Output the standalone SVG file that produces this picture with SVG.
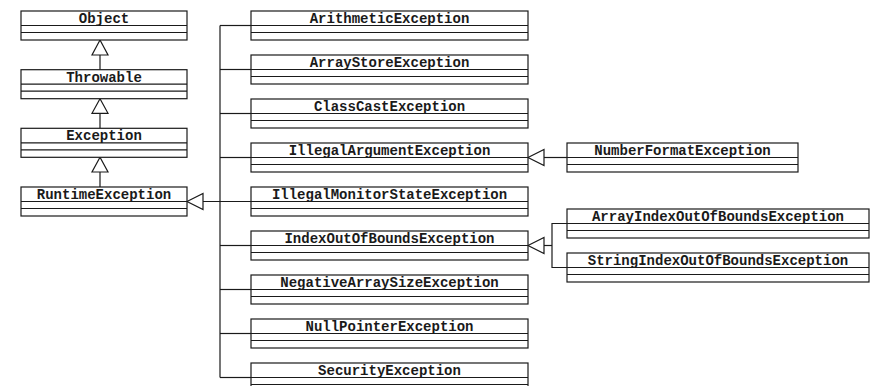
<svg xmlns="http://www.w3.org/2000/svg" width="874" height="386" viewBox="0 0 874 386">
<defs>
<style>
.box rect{fill:#fff;stroke:#1a1a1a;stroke-width:1.2}
.box line{stroke:#1a1a1a;stroke-width:1.2}
.box text{font-family:"Liberation Mono","Courier New",monospace;font-weight:bold;font-size:14px;fill:#1a1a1a;text-anchor:middle}
.conn line,.conn polyline{stroke:#1a1a1a;stroke-width:1.2;fill:none}
.conn polygon{fill:#fff;stroke:#1a1a1a;stroke-width:1.2}
</style>
</defs>
<rect width="874" height="386" fill="#fff"/>
<g class="conn">
<line x1="100" y1="55" x2="100" y2="69.7"/>
<polygon points="100,40 92,55 108,55"/>
<line x1="100" y1="113.3" x2="100" y2="128.3"/>
<polygon points="100,98.7 92,113.3 108,113.3"/>
<line x1="100" y1="172" x2="100" y2="187"/>
<polygon points="100,157.3 92,172 108,172"/>
<line x1="220" y1="25.5" x2="220" y2="377.5"/>
<line x1="220" y1="25.5" x2="251" y2="25.5"/>
<line x1="220" y1="69.5" x2="251" y2="69.5"/>
<line x1="220" y1="113.5" x2="251" y2="113.5"/>
<line x1="220" y1="157.5" x2="251" y2="157.5"/>
<line x1="203" y1="201.5" x2="251" y2="201.5"/>
<line x1="220" y1="245.5" x2="251" y2="245.5"/>
<line x1="220" y1="289.5" x2="251" y2="289.5"/>
<line x1="220" y1="333.5" x2="251" y2="333.5"/>
<line x1="220" y1="377.5" x2="251" y2="377.5"/>
<polygon points="187,201.5 203,193.5 203,209.5"/>
<line x1="544" y1="157.5" x2="567" y2="157.5"/>
<polygon points="528,157.5 544,149.5 544,165.5"/>
<polyline points="567,223.5 552,223.5 552,267.5 567,267.5"/>
<line x1="544" y1="245.5" x2="552" y2="245.5"/>
<polygon points="528,245.5 544,237.5 544,253.5"/>
</g>
<g id="Object" class="box"><rect x="21" y="11" width="166" height="29"/><line x1="21" y1="25.5" x2="187" y2="25.5"/><line x1="21" y1="32.5" x2="187" y2="32.5"/><text x="104" y="23">Object</text></g>
<g id="Throwable" class="box"><rect x="21" y="69.7" width="166" height="29"/><line x1="21" y1="84.2" x2="187" y2="84.2"/><line x1="21" y1="91.2" x2="187" y2="91.2"/><text x="104" y="81.7">Throwable</text></g>
<g id="Exception" class="box"><rect x="21" y="128.3" width="166" height="29"/><line x1="21" y1="142.8" x2="187" y2="142.8"/><line x1="21" y1="149.8" x2="187" y2="149.8"/><text x="104" y="140.3">Exception</text></g>
<g id="RuntimeException" class="box"><rect x="21" y="187" width="166" height="29"/><line x1="21" y1="201.5" x2="187" y2="201.5"/><line x1="21" y1="208.5" x2="187" y2="208.5"/><text x="104" y="199">RuntimeException</text></g>
<g id="ArithmeticException" class="box"><rect x="251" y="11" width="277" height="29"/><line x1="251" y1="25.5" x2="528" y2="25.5"/><line x1="251" y1="32.5" x2="528" y2="32.5"/><text x="389.5" y="23">ArithmeticException</text></g>
<g id="ArrayStoreException" class="box"><rect x="251" y="55" width="277" height="29"/><line x1="251" y1="69.5" x2="528" y2="69.5"/><line x1="251" y1="76.5" x2="528" y2="76.5"/><text x="389.5" y="67">ArrayStoreException</text></g>
<g id="ClassCastException" class="box"><rect x="251" y="99" width="277" height="29"/><line x1="251" y1="113.5" x2="528" y2="113.5"/><line x1="251" y1="120.5" x2="528" y2="120.5"/><text x="389.5" y="111">ClassCastException</text></g>
<g id="IllegalArgumentException" class="box"><rect x="251" y="143" width="277" height="29"/><line x1="251" y1="157.5" x2="528" y2="157.5"/><line x1="251" y1="164.5" x2="528" y2="164.5"/><text x="389.5" y="155">IllegalArgumentException</text></g>
<g id="IllegalMonitorStateException" class="box"><rect x="251" y="187" width="277" height="29"/><line x1="251" y1="201.5" x2="528" y2="201.5"/><line x1="251" y1="208.5" x2="528" y2="208.5"/><text x="389.5" y="199">IllegalMonitorStateException</text></g>
<g id="IndexOutOfBoundsException" class="box"><rect x="251" y="231" width="277" height="29"/><line x1="251" y1="245.5" x2="528" y2="245.5"/><line x1="251" y1="252.5" x2="528" y2="252.5"/><text x="389.5" y="243">IndexOutOfBoundsException</text></g>
<g id="NegativeArraySizeException" class="box"><rect x="251" y="275" width="277" height="29"/><line x1="251" y1="289.5" x2="528" y2="289.5"/><line x1="251" y1="296.5" x2="528" y2="296.5"/><text x="389.5" y="287">NegativeArraySizeException</text></g>
<g id="NullPointerException" class="box"><rect x="251" y="319" width="277" height="29"/><line x1="251" y1="333.5" x2="528" y2="333.5"/><line x1="251" y1="340.5" x2="528" y2="340.5"/><text x="389.5" y="331">NullPointerException</text></g>
<g id="SecurityException" class="box"><rect x="251" y="363" width="277" height="29"/><line x1="251" y1="377.5" x2="528" y2="377.5"/><line x1="251" y1="384.5" x2="528" y2="384.5"/><text x="389.5" y="375">SecurityException</text></g>
<g id="NumberFormatException" class="box"><rect x="567" y="143" width="231" height="29"/><line x1="567" y1="157.5" x2="798" y2="157.5"/><line x1="567" y1="164.5" x2="798" y2="164.5"/><text x="682.5" y="155">NumberFormatException</text></g>
<g id="ArrayIndexOutOfBoundsException" class="box"><rect x="567" y="209" width="302" height="29"/><line x1="567" y1="223.5" x2="869" y2="223.5"/><line x1="567" y1="230.5" x2="869" y2="230.5"/><text x="718" y="221">ArrayIndexOutOfBoundsException</text></g>
<g id="StringIndexOutOfBoundsException" class="box"><rect x="567" y="253" width="302" height="29"/><line x1="567" y1="267.5" x2="869" y2="267.5"/><line x1="567" y1="274.5" x2="869" y2="274.5"/><text x="718" y="265">StringIndexOutOfBoundsException</text></g>
</svg>
